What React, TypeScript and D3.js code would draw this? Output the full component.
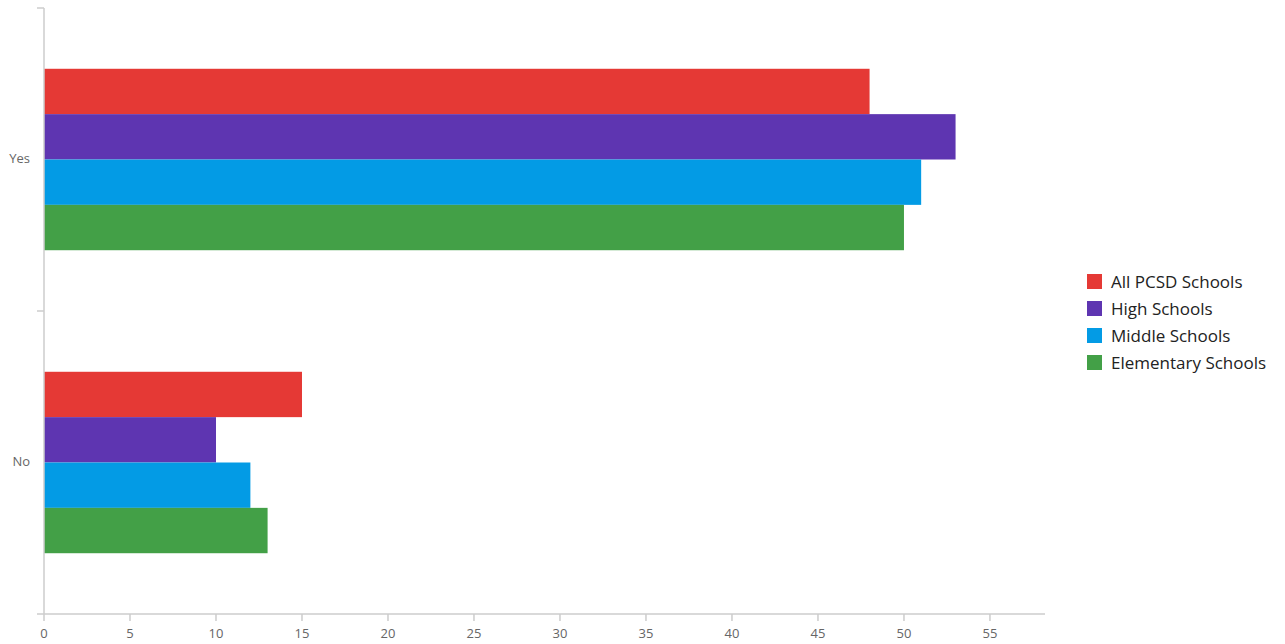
import React from "react";
import * as d3 from "d3";

const categories = ["Yes", "No"];
const seriesNames = ["All PCSD Schools", "High Schools", "Middle Schools", "Elementary Schools"];
const seriesColors = ["#e53935", "#5e35b1", "#039be5", "#43a047"];
const allSchools = [48, 15];
const highSchools = [53, 10];
const middleSchools = [51, 12];
const elementarySchools = [50, 13];
const xTicks = [0, 5, 10, 15, 20, 25, 30, 35, 40, 45, 50, 55];

const values = [allSchools, highSchools, middleSchools, elementarySchools];

const W = 1285;
const H = 644;
const margin = { top: 8, right: 240, bottom: 30, left: 44 };

export default function App() {
	const x = d3.scaleLinear().domain([0, 58.2]).range([margin.left, W - margin.right]);
	const y = d3
		.scaleBand<string>()
		.domain(categories)
		.range([margin.top, H - margin.bottom]);
	const inner = d3
		.scaleBand<string>()
		.domain(seriesNames)
		.range([0, y.bandwidth()])
		.paddingOuter(1.34);

	const axisColor = "#cccccc";
	const labelColor = "#666666";
	const font = "'Open Sans', 'Noto Sans', sans-serif";
	const yBottom = H - margin.bottom;
	const bandEdges = [...categories.map((c) => y(c) as number), yBottom];

	return (
		<svg
			width={W}
			height={H}
			style={{ position: "absolute", left: 0, top: 0, background: "#fff" }}
			fontFamily={font}
		>
			{/* bars */}
			{categories.map((cat, ci) => (
				<g key={cat} transform={`translate(0,${y(cat)})`}>
					{seriesNames.map((s, si) => (
						<rect
							key={s}
							x={x(0)}
							y={inner(s)}
							width={x(values[si][ci]) - x(0)}
							height={inner.bandwidth()}
							fill={seriesColors[si]}
						/>
					))}
				</g>
			))}

			{/* y axis */}
			<line x1={x(0)} x2={x(0)} y1={margin.top} y2={yBottom} stroke={axisColor} strokeWidth={1.5} />
			{bandEdges.map((v) => (
				<line key={v} x1={x(0) - 7} x2={x(0)} y1={v} y2={v} stroke={axisColor} strokeWidth={1.5} />
			))}
			{categories.map((cat) => (
				<text
					key={cat}
					x={30}
					y={(y(cat) as number) + y.bandwidth() / 2}
					textAnchor="end"
					dominantBaseline="middle"
					fontSize={13}
					fill={labelColor}
				>
					{cat}
				</text>
			))}

			{/* x axis */}
			<line x1={x(0)} x2={W - margin.right} y1={yBottom} y2={yBottom} stroke={axisColor} strokeWidth={1.5} />
			{xTicks.map((t) => (
				<g key={t}>
					<line x1={x(t)} x2={x(t)} y1={yBottom} y2={yBottom + 7} stroke={axisColor} strokeWidth={1.5} />
					<text x={x(t)} y={yBottom + 24} textAnchor="middle" fontSize={13} fill={labelColor}>
						{t}
					</text>
				</g>
			))}

			{/* legend */}
			{seriesNames.map((s, i) => (
				<g key={s} transform={`translate(1087,${274 + i * 27})`}>
					<rect width={15} height={15} fill={seriesColors[i]} />
					<text x={24} y={9} dominantBaseline="middle" fontSize={17} fill="#222">
						{s}
					</text>
				</g>
			))}
		</svg>
	);
}
